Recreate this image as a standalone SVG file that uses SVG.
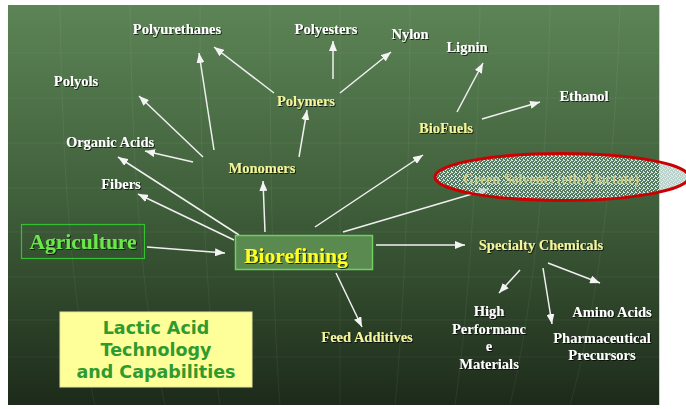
<svg xmlns="http://www.w3.org/2000/svg" width="686" height="409" viewBox="0 0 686 409">
<defs>
  <linearGradient id="bg" x1="0" y1="0" x2="0" y2="1">
    <stop offset="0" stop-color="#5c8456"/>
    <stop offset="0.5" stop-color="#3f5e3a"/>
    <stop offset="1" stop-color="#1d2b1a"/>
  </linearGradient>
  <pattern id="noise" width="4" height="4" patternUnits="userSpaceOnUse">
    <rect width="4" height="4" fill="#6f988a" fill-opacity="0.45"/>
    <rect x="0" y="0" width="1" height="1" fill="#d8f4f0"/>
    <rect x="2" y="1" width="1" height="1" fill="#d8f4f0"/>
    <rect x="1" y="2" width="1" height="1" fill="#e6fbf8"/>
    <rect x="3" y="3" width="1" height="1" fill="#d8f4f0"/>
    <rect x="3" y="0" width="1" height="1" fill="#c0e4e0"/>
  </pattern>
  <marker id="ah" markerUnits="userSpaceOnUse" markerWidth="10" markerHeight="8" refX="10" refY="4" orient="auto">
    <path d="M0,0 L10,4 L0,8 z" fill="#f4f4f4"/>
  </marker>
  <filter id="sh" x="-10%" y="-30%" width="120%" height="160%">
    <feDropShadow dx="1" dy="1" stdDeviation="0.4" flood-color="#000" flood-opacity="0.7"/>
  </filter>
  <style>
    .lbl{font-family:"Liberation Serif","Times New Roman",serif;font-weight:bold;font-size:14.5px;text-anchor:middle}
    .big{font-size:21.5px}
    .sm{font-size:14px}
    .w{fill:#ffffff}
    .y{fill:#f4f49a}
    .ar{stroke:#f0f0f0;stroke-width:1.5;fill:none;marker-end:url(#ah)}
    .grid{stroke:#ffffff;stroke-opacity:0.06;stroke-width:1;fill:none}
  </style>
</defs>

<rect x="0" y="0" width="686" height="409" fill="#ffffff"/>
<rect x="8" y="5" width="651" height="400" fill="url(#bg)"/>
<line x1="659.5" y1="5" x2="659.5" y2="405" stroke="#c8d8c0" stroke-width="1"/>

<g id="grid">
  <path class="grid" d="M8,53H659M8,98H659M8,143H659M8,188H659M8,232H659M8,277H659M8,320H659M8,357H659"/>
  <path class="grid" d="M60,5C62,150 70,300 95,405M130,5C132,150 140,300 165,405M200,5C200,150 205,300 220,405M270,5C270,150 272,300 280,405M340,5C340,150 340,300 340,405M410,5C410,150 405,300 395,405M480,5C478,150 470,300 455,405M550,5C548,150 535,300 510,405M620,5C616,150 600,300 570,405"/>
</g>

<g id="connectors">
  <line class="ar" x1="274" y1="93" x2="214" y2="47"/>
  <line class="ar" x1="333" y1="79" x2="333" y2="41"/>
  <line class="ar" x1="340" y1="93" x2="391" y2="52"/>
  <line class="ar" x1="214" y1="150" x2="199" y2="53"/>
  <line class="ar" x1="203" y1="157" x2="139" y2="96"/>
  <line class="ar" x1="299" y1="157" x2="307" y2="110"/>
  <line class="ar" x1="193" y1="162" x2="145" y2="151"/>
  <line class="ar" x1="265" y1="232" x2="263" y2="181"/>
  <line class="ar" x1="239" y1="235" x2="118" y2="157"/>
  <line class="ar" x1="234" y1="240" x2="138" y2="194"/>
  <line class="ar" x1="147" y1="247" x2="225" y2="253"/>
  <line class="ar" x1="315" y1="227" x2="423" y2="155"/>
  <line class="ar" x1="343" y1="232" x2="489" y2="189"/>
  <line class="ar" x1="457" y1="112" x2="483" y2="63"/>
  <line class="ar" x1="482" y1="119" x2="540" y2="102"/>
  <line class="ar" x1="376" y1="245" x2="465" y2="245"/>
  <line class="ar" x1="336" y1="273" x2="362" y2="327"/>
  <line class="ar" x1="520" y1="270" x2="499" y2="293"/>
  <line class="ar" x1="543" y1="268" x2="552" y2="324"/>
  <line class="ar" x1="548" y1="263" x2="600" y2="283"/>
</g>

<g id="polyurethanes"><text class="lbl w" filter="url(#sh)" x="177" y="34">Polyurethanes</text></g>
<g id="polyesters"><text class="lbl w" filter="url(#sh)" x="326" y="34">Polyesters</text></g>
<g id="nylon"><text class="lbl w" filter="url(#sh)" x="410" y="39">Nylon</text></g>
<g id="lignin"><text class="lbl w" filter="url(#sh)" x="467" y="52">Lignin</text></g>
<g id="polyols"><text class="lbl w" filter="url(#sh)" x="76" y="86">Polyols</text></g>
<g id="ethanol"><text class="lbl w" filter="url(#sh)" x="584" y="101">Ethanol</text></g>
<g id="polymers"><text class="lbl y" filter="url(#sh)" x="306" y="106">Polymers</text></g>
<g id="biofuels"><text class="lbl y" filter="url(#sh)" x="446" y="133">BioFuels</text></g>
<g id="organic-acids"><text class="lbl w" filter="url(#sh)" x="110" y="147">Organic Acids</text></g>
<g id="monomers"><text class="lbl y" filter="url(#sh)" x="262" y="173">Monomers</text></g>
<g id="fibers"><text class="lbl w" filter="url(#sh)" x="121" y="189">Fibers</text></g>

<g id="green-solvents">
  <ellipse cx="562" cy="177" rx="127" ry="23.5" fill="url(#noise)" stroke="#cc0000" stroke-width="3"/>
  <text class="lbl sm" x="551" y="184" fill="#d8d890" fill-opacity="0.85">Green Solvents (ethyl lactate)</text>
</g>

<g id="agriculture">
  <rect x="21.5" y="224.5" width="123" height="34" fill="none" stroke="#33c033" stroke-width="1.2"/>
  <text class="lbl big" filter="url(#sh)" x="83" y="249" fill="#6ae84a">Agriculture</text>
</g>

<g id="biorefining">
  <rect x="235.5" y="235.5" width="137" height="34" fill="#5a8a50" stroke="#6ed060" stroke-width="1.5"/>
  <text class="lbl big" filter="url(#sh)" x="296" y="263" fill="#ffff22">Biorefining</text>
</g>

<g id="specialty-chemicals"><text class="lbl y" filter="url(#sh)" x="541" y="250">Specialty Chemicals</text></g>

<g id="high-performance">
  <text class="lbl w" filter="url(#sh)" x="489" y="316">High</text>
  <text class="lbl w" filter="url(#sh)" x="489" y="334">Performanc</text>
  <text class="lbl w" filter="url(#sh)" x="489" y="351">e</text>
  <text class="lbl w" filter="url(#sh)" x="489" y="369">Materials</text>
</g>
<g id="amino-acids"><text class="lbl w" filter="url(#sh)" x="612" y="317">Amino Acids</text></g>
<g id="pharmaceutical">
  <text class="lbl w" filter="url(#sh)" x="602" y="343">Pharmaceutical</text>
  <text class="lbl w" filter="url(#sh)" x="602" y="360">Precursors</text>
</g>
<g id="feed-additives"><text class="lbl y" filter="url(#sh)" x="367" y="342">Feed Additives</text></g>

<g id="lactic-acid">
  <rect x="60" y="312" width="192" height="75" fill="#ffff99" stroke="#e6e6a0" stroke-width="1"/>
  <g font-family="'DejaVu Sans',Verdana,sans-serif" font-weight="bold" font-size="17.5" fill="#2f9a2f" text-anchor="middle">
    <text x="156" y="334">Lactic Acid</text>
    <text x="156" y="356">Technology</text>
    <text x="156" y="378">and Capabilities</text>
  </g>
</g>
</svg>
